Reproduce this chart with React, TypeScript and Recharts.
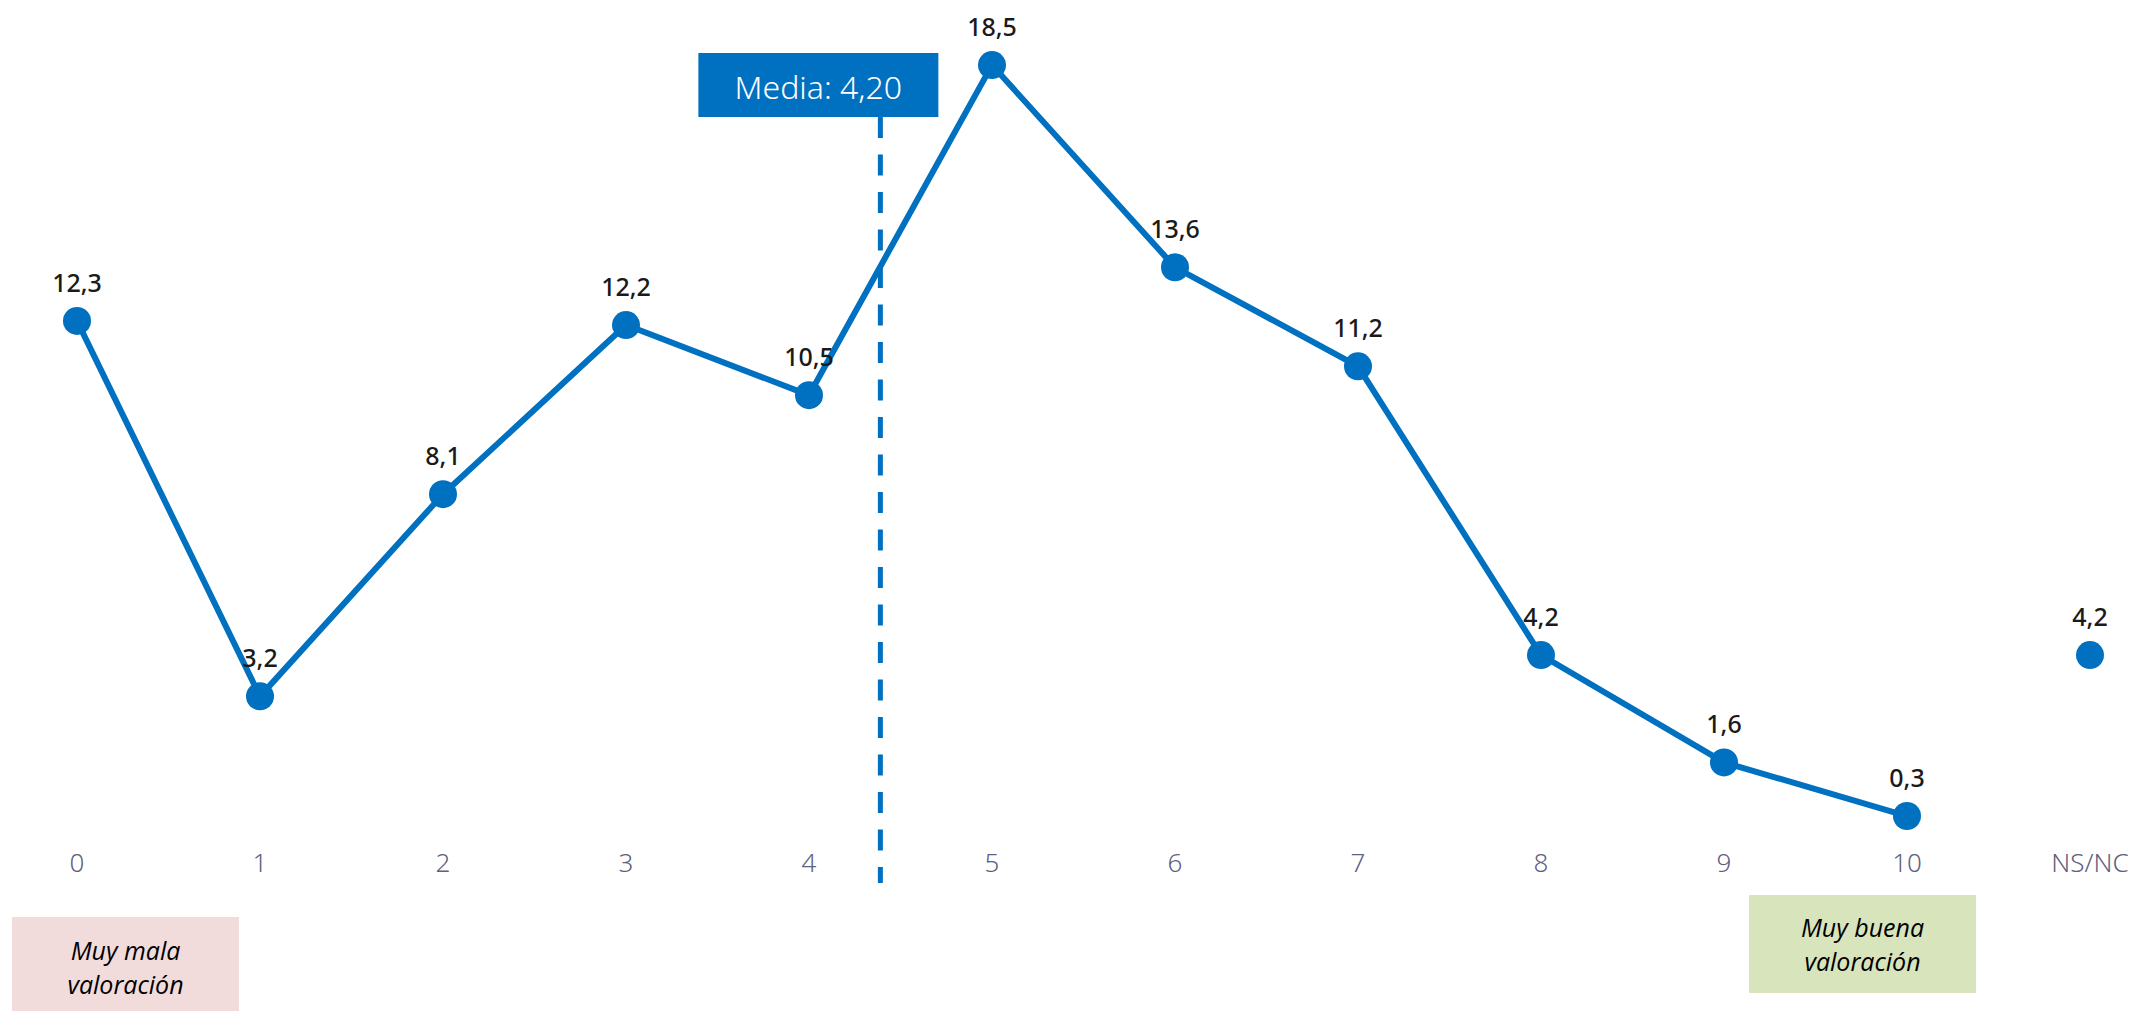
import { LineChart, Line, XAxis, YAxis, ReferenceLine, LabelList } from 'recharts';

const categories = ['0', '1', '2', '3', '4', '5', '6', '7', '8', '9', '10', 'NS/NC'];
const valores = [12.3, 3.2, 8.1, 12.2, 10.5, 18.5, 13.6, 11.2, 4.2, 1.6, 0.3];
const nsncValor = 4.2;
const media = 4.2;
// the dashed line sits a bit right of 4.2 on the axis in the original
const mediaLinePos = 4.39;

const BLUE = '#0070C0';
const FONT = "'Noto Sans', 'Open Sans', sans-serif";

const rows = categories.map((cat, i) => ({
    idx: i,
    cat,
    valor: i < valores.length ? valores[i] : null,
    nsnc: cat === 'NS/NC' ? nsncValor : null,
}));

const fmt = (v: number) => v.toFixed(1).replace('.', ',');

const PointLabel = (props: any) => {
    const { x, y, value } = props;
    if (value == null) return null;
    return (
        <text
            x={x}
            y={y - 39}
            textAnchor="middle"
            dominantBaseline="central"
            fontFamily={FONT}
            fontSize={25}
            fontWeight={500}
            fill="#1a1a1a"
        >
            {fmt(value)}
        </text>
    );
};

const MediaShape = (props: any) => {
    const lx = props.x1;
    return (
        <g>
            <line x1={lx} x2={lx} y1={117} y2={883} stroke={BLUE} strokeWidth={5} strokeDasharray="21 16.5" />
            <rect x={lx - 182} y={53} width={240} height={64} fill={BLUE} />
            <text
                x={lx - 62}
                y={86}
                textAnchor="middle"
                dominantBaseline="central"
                fontFamily={FONT}
                fontSize={32}
                fontWeight={300}
                fill="#ffffff"
            >
                {`Media: ${media.toFixed(2).replace('.', ',')}`}
            </text>
        </g>
    );
};

const boxText: React.CSSProperties = {
    position: 'absolute',
    display: 'flex',
    alignItems: 'center',
    justifyContent: 'center',
    textAlign: 'center',
    fontFamily: "'Open Sans', Lato, sans-serif",
    fontStyle: 'italic',
    fontSize: 25,
    lineHeight: '34px',
    color: '#000',
};

export default function App() {
    return (
        <div style={{ position: 'absolute', left: 0, top: 0, width: 2142, height: 1011, background: '#fff' }}>
            <LineChart
                width={2142}
                height={1011}
                data={rows}
                margin={{ top: 3.2, right: 52, left: 77, bottom: 142.6 }}
            >
                <XAxis
                    dataKey="idx"
                    type="number"
                    domain={[0, 11]}
                    ticks={categories.map((_, i) => i)}
                    interval={0}
                    tickFormatter={(v: number) => categories[v]}
                    axisLine={false}
                    tickLine={false}
                    tickMargin={19}
                    height={40}
                    tick={{ fontSize: 26, fill: '#5f5f7f', fontFamily: FONT, fontWeight: 300 }}
                />
                <YAxis hide domain={[0, 20]} />
                <ReferenceLine x={mediaLinePos} shape={MediaShape} ifOverflow="visible" />
                <Line
                    dataKey="valor"
                    stroke={BLUE}
                    strokeWidth={6}
                    dot={{ r: 14, fill: BLUE, stroke: 'none' }}
                    activeDot={false}
                    isAnimationActive={false}
                >
                    <LabelList dataKey="valor" content={PointLabel} />
                </Line>
                <Line
                    dataKey="nsnc"
                    stroke={BLUE}
                    strokeWidth={6}
                    dot={{ r: 14, fill: BLUE, stroke: 'none' }}
                    activeDot={false}
                    isAnimationActive={false}
                >
                    <LabelList dataKey="nsnc" content={PointLabel} />
                </Line>
            </LineChart>
            <div style={{ ...boxText, left: 12, top: 917, width: 227, height: 94, background: '#F2DCDB', paddingTop: 6, boxSizing: 'border-box' }}>
                Muy mala<br />valoración
            </div>
            <div style={{ ...boxText, left: 1749, top: 895, width: 227, height: 98, background: '#D8E4BC' }}>
                Muy buena<br />valoración
            </div>
        </div>
    );
}
